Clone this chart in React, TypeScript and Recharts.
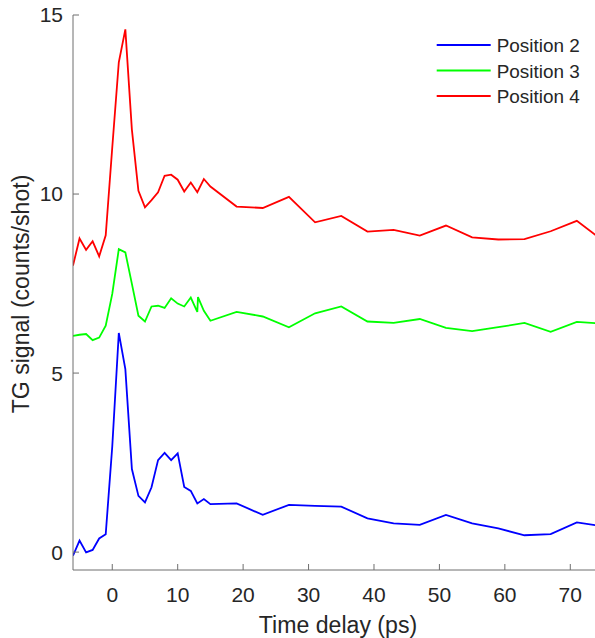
import React from 'react';
import { LineChart, Line, XAxis, YAxis, Legend, Label } from 'recharts';

// Time delays (ps) shared by positions 2 and 4
const delays = [
  -6, -5, -4, -3, -2, -1, 0, 1, 2, 3, 4, 5, 6, 7, 8, 9, 10, 11, 12, 13, 14, 15,
  19, 23, 27, 31, 35, 39, 43, 47, 51, 55, 59, 63, 67, 71, 75,
];
// Position 3 has one extra repeated scan near 13 ps
const delaysPos3 = [
  -6, -5, -4, -3, -2, -1, 0, 1, 2, 3, 4, 5, 6, 7, 8, 9, 10, 11, 12, 13, 13.1, 14, 15,
  19, 23, 27, 31, 35, 39, 43, 47, 51, 55, 59, 63, 67, 71, 75,
];

// TG signal (counts/shot)
const signalPos2 = [
  -0.1, 0.32, -0.01, 0.06, 0.38, 0.5, 2.95, 6.12, 5.11, 2.32, 1.57, 1.39, 1.81, 2.57, 2.77, 2.57,
  2.76, 1.82, 1.71, 1.36, 1.48, 1.34, 1.36, 1.04, 1.32, 1.29, 1.27, 0.94, 0.8, 0.76, 1.04, 0.8,
  0.66, 0.47, 0.5, 0.83, 0.72,
];
const signalPos3 = [
  6.04, 6.07, 6.09, 5.92, 5.99, 6.32, 7.21, 8.46, 8.37, 7.49, 6.6, 6.44, 6.86, 6.88, 6.82, 7.09,
  6.94, 6.86, 7.11, 6.71, 7.12, 6.74, 6.46, 6.71, 6.58, 6.28, 6.67, 6.86, 6.44, 6.4, 6.51, 6.26,
  6.17, 6.28, 6.4, 6.15, 6.43, 6.38,
];
const signalPos4 = [
  8.0, 8.76, 8.44, 8.68, 8.26, 8.85, 11.3, 13.68, 14.6, 11.8, 10.09, 9.63, 9.83, 10.05, 10.51,
  10.54, 10.4, 10.07, 10.32, 10.05, 10.42, 10.21, 9.65, 9.61, 9.92, 9.21, 9.39, 8.95, 9.0, 8.84,
  9.12, 8.79, 8.73, 8.74, 8.96, 9.25, 8.7,
];

const xTicks = [0, 10, 20, 30, 40, 50, 60, 70];
const yTicks = [0, 5, 10, 15];
const xDomain: [number, number] = [-6, 75];
const yDomain: [number, number] = [-0.5, 15];

const seriesNames = ['Position 2', 'Position 3', 'Position 4'];
const seriesColors = ['#0000ff', '#00ff00', '#ff0000'];

const toPoints = (t: number[], v: number[]) => t.map((x, i) => ({ t: x, v: v[i] }));

const series = [
  { name: seriesNames[0], color: seriesColors[0], data: toPoints(delays, signalPos2) },
  { name: seriesNames[1], color: seriesColors[1], data: toPoints(delaysPos3, signalPos3) },
  { name: seriesNames[2], color: seriesColors[2], data: toPoints(delays, signalPos4) },
];

const TEXT = '#262626';
const AXIS = '#6e6e6e';
const FONT = '"Liberation Sans", Arial, Helvetica, sans-serif';

const YAxisTitle = (props: any) => {
  const vb = props.viewBox || { y: 15, height: 555 };
  const cy = vb.y + vb.height / 2 + 1.5;
  const x = 29;
  return (
    <text
      x={x}
      y={cy}
      transform={`rotate(-90 ${x} ${cy})`}
      textAnchor="middle"
      fontSize={23.1}
      fill={TEXT}
      fontFamily={FONT}
    >
      TG signal (counts/shot)
    </text>
  );
};

const LegendBox = (props: any) => {
  const payload = props.payload || [];
  return (
    <svg width={170} height={80} style={{ display: 'block' }}>
      {payload.map((e: any, i: number) => {
        const y = 15 + i * 25.5;
        return (
          <g key={e.value}>
            <line x1={6.7} x2={60.7} y1={y} y2={y} stroke={e.color} strokeWidth={1.8} />
            <text x={66.7} y={y + 7.3} fontSize={18.9} fill={TEXT} fontFamily={FONT}>
              {e.value}
            </text>
          </g>
        );
      })}
    </svg>
  );
};

export default function App() {
  return (
    <div
      style={{
        position: 'absolute',
        left: 0,
        top: 0,
        width: 595,
        height: 638,
        overflow: 'hidden',
        background: '#fff',
        fontFamily: FONT,
      }}
    >
      <LineChart width={603} height={638} margin={{ top: 15, right: 0, bottom: 0, left: 0 }}>
        <XAxis
          xAxisId="bottom"
          dataKey="t"
          type="number"
          domain={xDomain}
          ticks={xTicks}
          allowDataOverflow
          height={68}
          tickSize={-6}
          tickMargin={23}
          stroke={AXIS}
          tick={{ fill: TEXT, fontSize: 21 }}
        >
          <Label
            value="Time delay (ps)"
            position="insideBottom"
            offset={5.5}
            fill={TEXT}
            fontSize={23.1}
          />
        </XAxis>
        <XAxis
          xAxisId="top"
          orientation="top"
          dataKey="t"
          type="number"
          domain={xDomain}
          ticks={xTicks}
          allowDataOverflow
          height={0}
          tickSize={-6}
          tick={false}
          stroke={AXIS}
        />
        <YAxis
          yAxisId="left"
          type="number"
          domain={yDomain}
          ticks={yTicks}
          allowDataOverflow
          width={73}
          tickSize={-6}
          tickMargin={16}
          stroke={AXIS}
          tick={{ fill: TEXT, fontSize: 21 }}
        >
          <Label content={YAxisTitle} />
        </YAxis>
        {series.map((s) => (
          <Line
            key={s.name}
            xAxisId="bottom"
            yAxisId="left"
            data={s.data}
            dataKey="v"
            name={s.name}
            stroke={s.color}
            strokeWidth={1.8}
            dot={false}
            isAnimationActive={false}
          />
        ))}
        <Legend
          layout="vertical"
          align="center"
          verticalAlign="middle"
          content={LegendBox}
          wrapperStyle={{ left: 430, top: 30, width: 170, height: 80 }}
        />
      </LineChart>
    </div>
  );
}
